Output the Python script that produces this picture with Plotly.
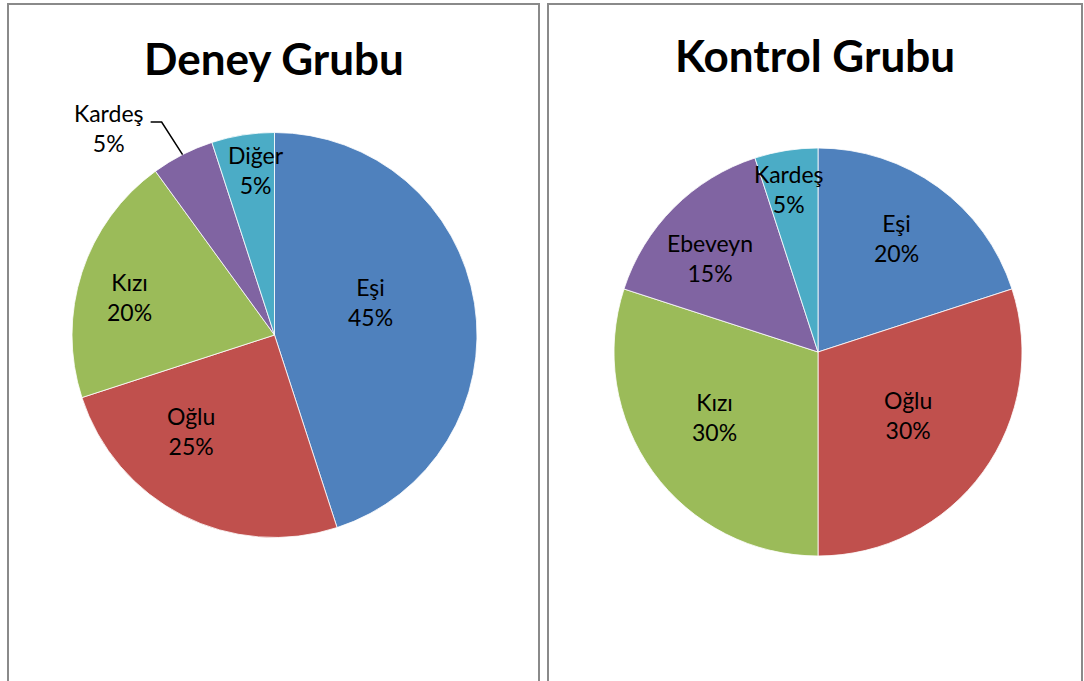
import math
import plotly.graph_objects as go

# ---- data ----
deney_labels = ["Eşi", "Oğlu", "Kızı", "Kardeş", "Diğer"]
deney_values = [45, 25, 20, 5, 5]
kontrol_labels = ["Eşi", "Oğlu", "Kızı", "Ebeveyn", "Kardeş"]
kontrol_values = [20, 30, 30, 15, 5]
titles = ["Deney Grubu", "Kontrol Grubu"]

BLUE, RED, GREEN, PURPLE, CYAN = "#4F81BD", "#C0504D", "#9BBB59", "#8064A2", "#4BACC6"
slice_colors = [BLUE, RED, GREEN, PURPLE, CYAN]

W, H = 1084, 681
FONT = "Lato"

# pie geometry (pixels): left, right, top, bottom
deney_box = (72, 477, 132, 538)
kontrol_box = (613, 1023, 148, 556)

# label placement (style): angle tweak from slice middle (deg), radius fraction
deney_label_pos = [(-10, 0.50), (14, 0.63), (-3.4, 0.74), (-11.7, 1.31), (2.6, 0.82)]
kontrol_label_pos = [(-1.5, 0.68), (-1, 0.54), (4, 0.60), (-4, 0.70), (-1, 0.81)]


def px(x0, x1):
    return [x0 / W, x1 / W]


def py(top, bottom):
    return [(H - bottom) / H, (H - top) / H]


fig = go.Figure()


def add_pie(labels, values, box, label_pos, outside_idx=None):
    l, r, t, b = box
    fig.add_trace(go.Pie(
        labels=labels, values=values, sort=False, direction="clockwise",
        rotation=0, marker=dict(colors=slice_colors, line=dict(color="white", width=0.8)),
        textinfo="none", domain=dict(x=px(l, r), y=py(t, b)),
        showlegend=False, hoverinfo="label+percent",
    ))
    cx, cy = (l + r) / 2, (t + b) / 2
    rad = min(r - l, b - t) / 2
    total = sum(values)
    cum = 0
    for i, (lab, v) in enumerate(zip(labels, values)):
        mid = (cum + v / 2) / total * 360
        cum += v
        tweak, frac = label_pos[i]
        ang = math.radians(mid + tweak)
        tx = cx + frac * rad * math.sin(ang)
        ty = cy - frac * rad * math.cos(ang)
        pct = round(v / total * 100)
        fig.add_annotation(text="%s<br>%d%%" % (lab, pct), x=tx / W, y=(H - ty) / H,
                           xref="paper", yref="paper", showarrow=False,
                           xanchor="center", yanchor="middle",
                           font=dict(family=FONT, size=23, color="black"))
        if i == outside_idx:
            a = math.radians(mid)
            ex = cx + rad * math.sin(a)
            ey = cy - rad * math.cos(a)
            x1 = tx + 42
            x2 = tx + 53
            yy = ty - 6
            fig.add_shape(type="path", xref="paper", yref="paper",
                          path="M %f,%f L %f,%f L %f,%f" % (
                              x1 / W, (H - yy) / H, x2 / W, (H - yy) / H, ex / W, (H - ey) / H),
                          line=dict(color="black", width=1.5))


add_pie(deney_labels, deney_values, deney_box, deney_label_pos, outside_idx=3)
add_pie(kontrol_labels, kontrol_values, kontrol_box, kontrol_label_pos)

# panel borders
for x0, x1 in [(8, 539), (548, 1082)]:
    fig.add_shape(type="rect", xref="paper", yref="paper",
                  x0=x0 / W, x1=x1 / W, y0=-0.05, y1=(H - 4) / H,
                  line=dict(color="#8a8a8a", width=2), fillcolor="rgba(0,0,0,0)")

# titles
for t, cx, cy in [(titles[0], 274, 58), (titles[1], 815, 55)]:
    fig.add_annotation(text="<b>%s</b>" % t, x=cx / W, y=(H - cy) / H,
                       xref="paper", yref="paper", showarrow=False,
                       xanchor="center", yanchor="middle",
                       font=dict(family=FONT, size=44, color="black"))

fig.update_layout(width=W, height=H, margin=dict(l=0, r=0, t=0, b=0),
                  paper_bgcolor="white", plot_bgcolor="white")

fig.write_html("out.html", config={"displayModeBar": False},
               post_script="document.body.style.margin='0px';")
